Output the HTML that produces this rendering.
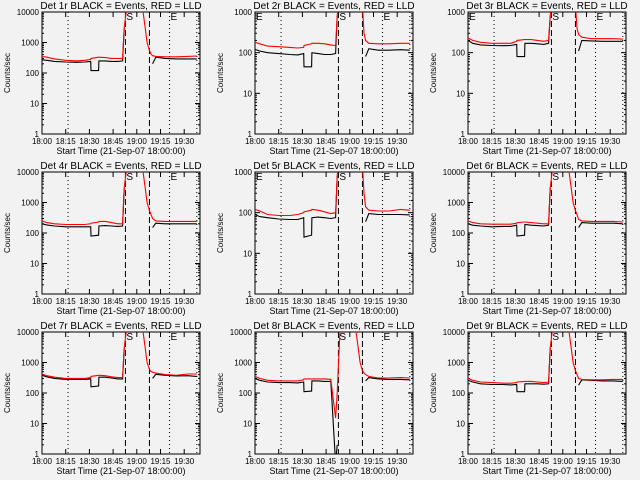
<!DOCTYPE html>
<html><head><meta charset="utf-8"><style>
html,body{margin:0;padding:0;background:#f2f2f2;}
svg{display:block;font-family:"Liberation Sans",sans-serif;}
</style></head><body>
<svg id="c" width="640" height="480" viewBox="0 0 640 480"></svg>
<script>
// ---- data ----
const times = [0,3,8,15,22,27,30.8,31,35.8,36,40,44,48,51,52,54,62,64,66.5,68,69,70,72,78,85,92,98];
const detectors = ["1r","2r","3r","4r","5r","6r","7r","8r","9r"];
const yMaxes = [10000,1000,1000,10000,1000,10000,10000,10000,10000];
const red1 = [350,330,290,260,250,260,280,300,330,330,320,300,300,300,3000,20000,30000,10000,1000,550,420,370,350,340,340,350,360];
const black1 = [270,260,240,230,225,230,240,120,120,250,250,240,240,250,3000,null,null,null,null,null,null,200,330,300,290,290,290];
const red2 = [180,165,145,140,135,130,135,150,165,170,170,165,155,150,800,5000,5000,5000,3000,1500,300,200,170,165,165,170,170];
const black2 = [120,110,100,95,90,88,95,45,45,100,95,90,90,95,800,null,null,null,null,null,null,80,125,115,115,118,115];
const red3 = [230,200,180,170,170,170,190,200,210,210,210,200,190,200,800,5000,5000,5000,3000,1500,400,280,240,220,220,220,215];
const black3 = [200,170,155,150,148,150,160,80,80,170,170,165,160,170,800,null,null,null,null,null,null,110,200,195,190,190,190];
const red4 = [250,220,200,190,190,190,200,210,230,240,240,220,200,200,3000,20000,30000,10000,1000,550,400,300,250,240,240,240,240];
const black4 = [200,185,170,160,160,160,160,80,85,170,175,170,165,170,3000,null,null,null,null,null,null,150,210,200,200,200,200];
const red5 = [120,110,90,85,85,90,100,105,115,120,115,105,95,100,800,5000,5000,5000,3000,1500,300,140,115,110,110,120,115];
const black5 = [90,80,75,70,68,68,75,25,28,75,78,75,72,75,800,null,null,null,null,null,null,60,95,90,90,90,88];
const red6 = [250,220,200,195,195,195,210,220,230,230,220,210,200,200,3000,20000,30000,10000,1000,550,400,280,250,240,240,240,230];
const black6 = [200,180,170,160,165,165,180,80,85,190,180,175,170,180,3000,null,null,null,null,null,null,150,220,210,210,210,200];
const red7 = [420,370,330,300,300,300,320,350,380,380,370,340,320,320,3000,20000,30000,10000,1000,600,500,480,450,400,380,420,420];
const black7 = [380,340,300,280,280,280,290,160,170,330,330,310,290,290,3000,null,null,null,null,null,null,300,410,380,360,370,350];
const red8 = [350,300,260,250,250,250,270,290,290,290,290,290,280,15,100,20000,30000,10000,1000,550,450,400,350,310,310,320,310];
const black8 = [300,260,230,220,220,215,230,110,115,250,250,240,240,0.5,2,null,null,null,null,null,null,250,320,290,280,280,270];
const red9 = [300,260,230,220,210,210,220,230,240,240,240,230,220,230,3000,20000,30000,10000,1000,550,400,300,280,270,270,280,280];
const black9 = [260,230,200,190,190,185,190,110,110,200,200,200,195,200,3000,null,null,null,null,null,null,180,270,260,250,250,240];
const reds = [red1,red2,red3,red4,red5,red6,red7,red8,red9];
const blacks = [black1,black2,black3,black4,black5,black6,black7,black8,black9];
const xTicks = [0,15,30,45,60,75,90];
const xTickLabels = ["18:00","18:15","18:30","18:45","19:00","19:15","19:30"];
const dashedTimes = [52.8,68];
const dottedTimes = [16.5,80.7,98];

// ---- drawing ----
const NS="http://www.w3.org/2000/svg";
const svg=document.getElementById('c');
function mk(tag,attrs,parent){const e=document.createElementNS(NS,tag);for(const k in attrs)e.setAttribute(k,attrs[k]);(parent||svg).appendChild(e);return e;}
const L=42,R=200,T=12,B=134,TMAX=100;
for(let p=0;p<9;p++){
  const ox=(p%3)*213, oy=Math.floor(p/3)*160;
  const g=mk('g',{transform:`translate(${ox},${oy})`});
  
  
  const ymax=yMaxes[p], dec=Math.log10(ymax);
  const xs=t=>L+(R-L)*t/TMAX;
  const ys=v=>B-(B-T)*Math.log10(v)/dec;
  const cid='clip'+p;
  const cp=mk('clipPath',{id:cid},g);mk('rect',{x:L,y:T,width:R-L,height:B-T},cp);
  const ti=mk('text',{x:(L+R)/2,y:9,'text-anchor':'middle','font-size':'10'},g);
  ti.textContent='Det '+detectors[p]+' BLACK = Events, RED = LLD';
  
  
  const yt=mk('text',{x:0,y:0,'text-anchor':'middle','font-size':'8',transform:`translate(10,${(T+B)/2}) rotate(-90)`},g);
  yt.textContent='Counts/sec';
  
  
  const xt=mk('text',{x:(L+R)/2,y:154,'text-anchor':'middle','font-size':'9'},g);
  xt.textContent='Start Time (21-Sep-07 18:00:00)';
  
  
  const fr=mk('rect',{x:L,y:T,width:R-L,height:B-T,fill:'none',stroke:'#000','stroke-width':1},g);
  
  
  xTicks.forEach((t,i)=>{
    const x=xs(t);
    mk('line',{x1:x,x2:x,y1:B,y2:B-5,stroke:'#000'},g);
    mk('line',{x1:x,x2:x,y1:T,y2:T+5,stroke:'#000'},g);
    const lb=mk('text',{x:x,y:B+10,'text-anchor':'middle','font-size':'8'},g);
    lb.textContent=xTickLabels[i];
    
    
  });
  for(let d=0;d<=dec;d++){
    const v=Math.pow(10,d),y=ys(v);
    mk('line',{x1:L,x2:L+5,y1:y,y2:y,stroke:'#000'},g);
    mk('line',{x1:R,x2:R-5,y1:y,y2:y,stroke:'#000'},g);
    const lb=mk('text',{x:L-3,y:y+3,'text-anchor':'end','font-size':'8'},g);
    lb.textContent=String(v);
    
    
    if(d<dec)for(let m=2;m<10;m++){const ym=ys(v*m);
      mk('line',{x1:L,x2:L+2,y1:ym,y2:ym,stroke:'#000'},g);
      mk('line',{x1:R,x2:R-2,y1:ym,y2:ym,stroke:'#000'},g);}
  }
  dashedTimes.forEach(t=>{const l=mk('line',{x1:xs(t),x2:xs(t),y1:T,y2:B,stroke:'#000','stroke-dasharray':'6,3'},g);
    });
  dottedTimes.forEach(t=>{const l=mk('line',{x1:xs(t),x2:xs(t),y1:T,y2:B,stroke:'#000','stroke-dasharray':'1,3'},g);
    });
  const sm=mk('text',{x:xs(dashedTimes[0])+1,y:T+8,'font-size':'10'},g);sm.textContent='S';
  
  const em=mk('text',{x:xs(dottedTimes[1])+1,y:T+8,'font-size':'10'},g);em.textContent='E';
  
  if(dec===3){const e2=mk('text',{x:L+1,y:T+8,'font-size':'10'},g);e2.textContent='E';
    }
  // series (null = gap)
  const segs=arr=>{const out=[];let cur=[];times.forEach((t,i)=>{const v=arr[i];
    if(v===null){if(cur.length)out.push(cur);cur=[];}else cur.push(xs(t).toFixed(1)+','+ys(v).toFixed(1));});
    if(cur.length)out.push(cur);return out.map(c=>c.join(' '));};
  segs(blacks[p]).forEach(s=>{const bl=mk('polyline',{points:s,fill:'none',stroke:'#000','stroke-width':1.1,'clip-path':`url(#${cid})`},g);
    
    });
  segs(reds[p]).forEach(s=>{const rl=mk('polyline',{points:s,fill:'none',stroke:'#f00','stroke-width':1.1,'clip-path':`url(#${cid})`},g);
    
    });
}
</script>
</body></html>
